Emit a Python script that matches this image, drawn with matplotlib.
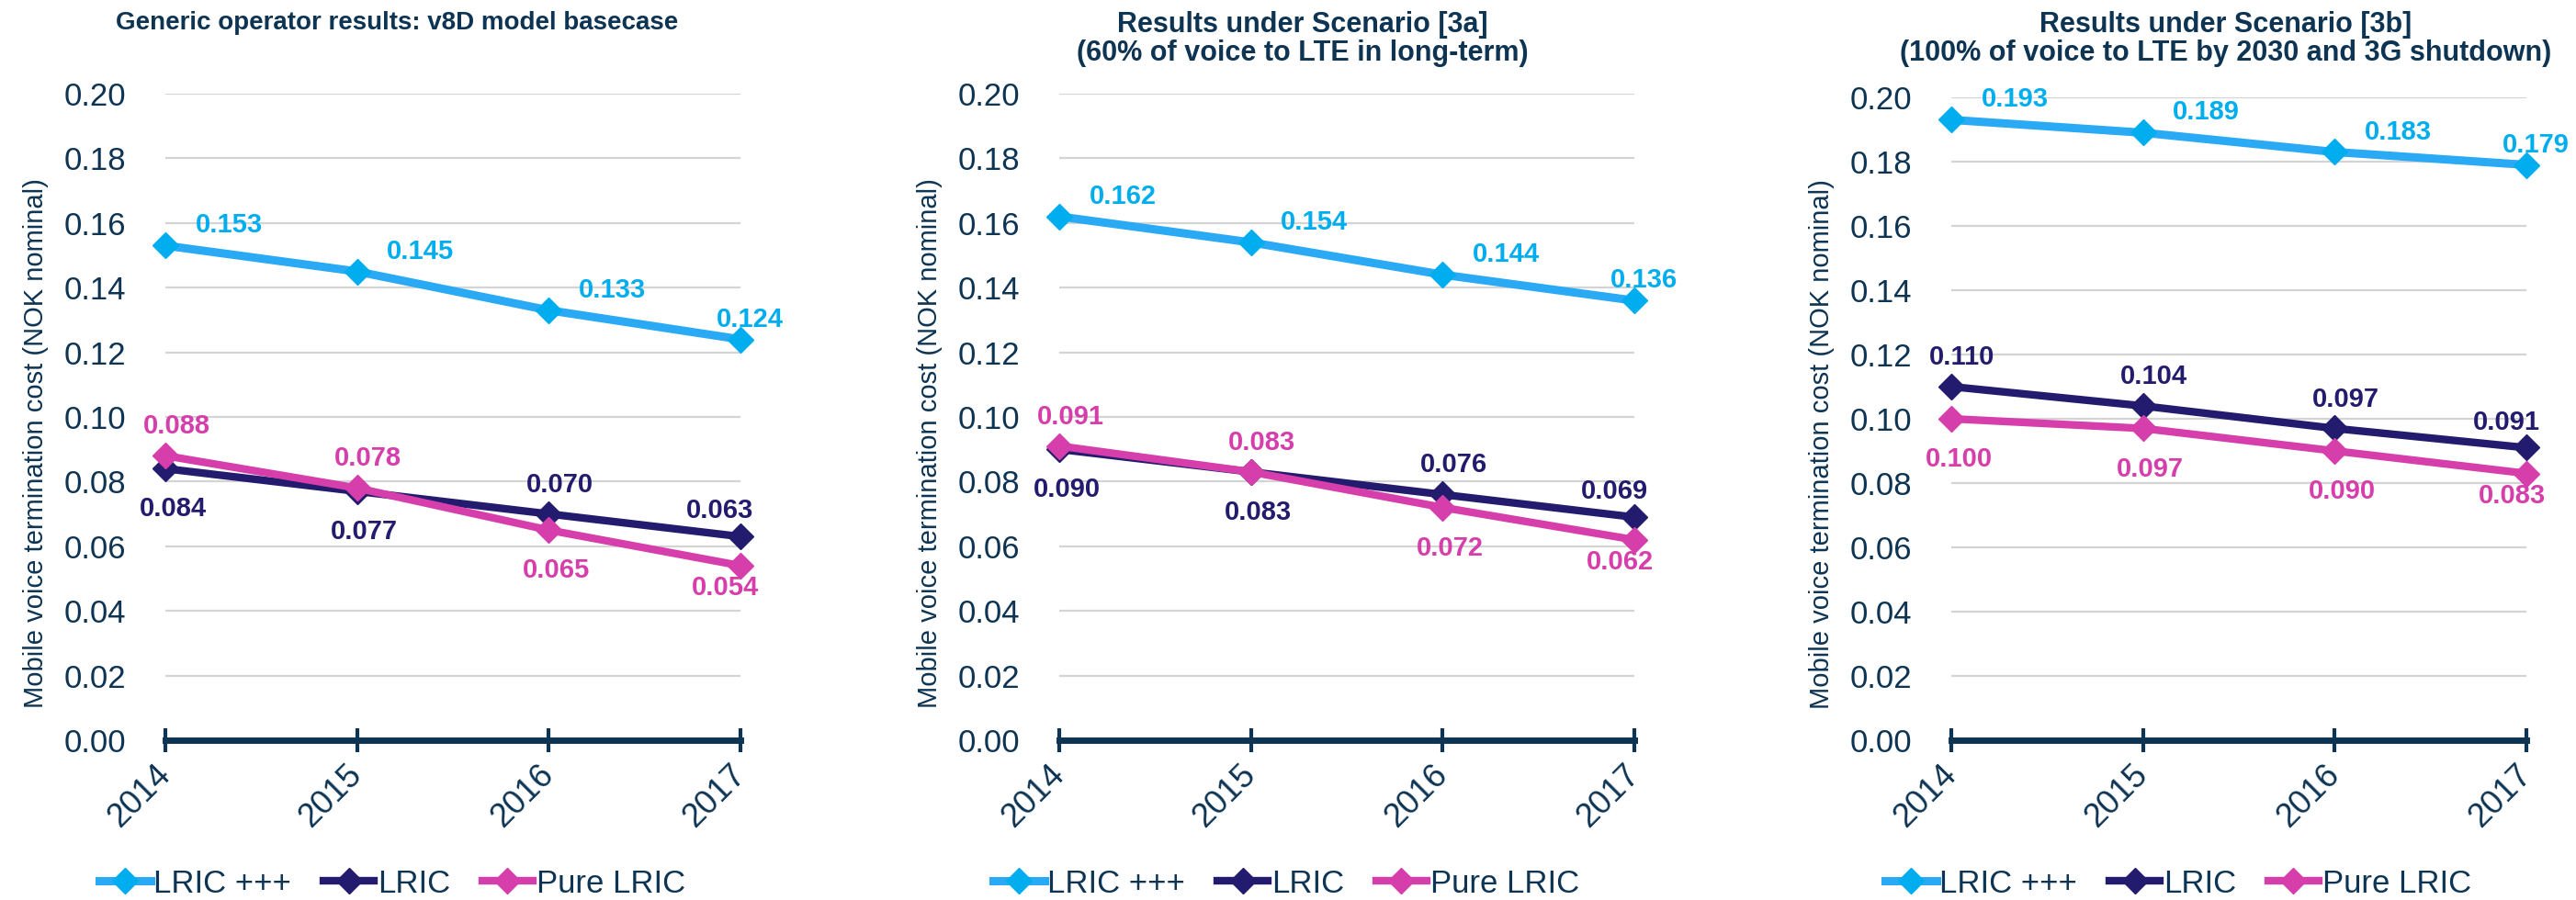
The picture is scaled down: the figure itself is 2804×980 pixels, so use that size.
import numpy as np
import matplotlib.pyplot as plt

plt.rcParams['font.family'] = ['Liberation Sans', 'DejaVu Sans']

# data
years = [2014, 2015, 2016, 2017]
series_names = ['LRIC +++', 'LRIC', 'Pure LRIC']
titles = ['Generic operator results: v8D model basecase',
          'Results under Scenario [3a]\n(60% of voice to LTE in long-term)',
          'Results under Scenario [3b]\n(100% of voice to LTE by 2030 and 3G shutdown)']
lric_ppp = [[0.153, 0.145, 0.133, 0.124],
            [0.162, 0.154, 0.144, 0.136],
            [0.193, 0.189, 0.183, 0.179]]
lric = [[0.084, 0.077, 0.070, 0.063],
        [0.090, 0.083, 0.076, 0.069],
        [0.110, 0.104, 0.097, 0.091]]
pure_lric = [[0.088, 0.078, 0.065, 0.054],
             [0.091, 0.083, 0.072, 0.062],
             [0.100, 0.097, 0.090, 0.083]]
y_label = 'Mobile voice termination cost (NOK nominal)'

# label placement: a = above, b = below
navy_pos = [['b', 'b', 'a', 'a'], ['b', 'b', 'a', 'a'], ['a', 'a', 'a', 'a']]
pink_pos = [['a', 'a', 'b', 'b'], ['a', 'a', 'b', 'b'], ['b', 'b', 'b', 'b']]

dark = '#0E3453'
c_blue_line = '#2AAAF4'
c_blue = '#00AEEF'
c_navy = '#231C6E'
c_pink = '#D63EAB'
grid_c = '#D4D4D4'

W, H = 2804, 980
fig = plt.figure(figsize=(W / 100, H / 100), dpi=100)

lefts = [180, 1153, 2124]
tops = [102, 102, 106]
title_x = [432, 1418, 2423]
title_size = [20, 22, 22]
legend_x = [427, 1400, 2371]
pw = 626
y0 = 806


def offset(pos, i):
    last = i == len(years) - 1
    if pos == 'a':
        return (-22, 28) if last else (12, 32)
    return (-16, -24) if last else (8, -44)


for k in range(3):
    ax = fig.add_axes([lefts[k] / W, (H - y0) / H, pw / W, (y0 - tops[k]) / H])
    ax.set_xlim(2014, 2017)
    ax.set_ylim(0, 0.2)
    ax.set_yticks(np.arange(0, 0.201, 0.02))
    ax.set_yticklabels(['%.2f' % t for t in np.arange(0, 0.201, 0.02)])
    ax.set_xticks(years)
    ax.set_xticklabels([str(y) for y in years], rotation=45, ha='right',
                       va='center', rotation_mode='anchor')
    ax.grid(axis='y', color=grid_c, lw=1.6, zorder=0)
    ax.set_axisbelow(True)
    for s in ['left', 'right', 'top']:
        ax.spines[s].set_visible(False)
    ax.spines['bottom'].set_color(dark)
    ax.spines['bottom'].set_linewidth(5)
    ax.tick_params(axis='y', length=0, pad=31, labelsize=25, labelcolor=dark)
    ax.tick_params(axis='x', direction='inout', length=19, width=3, color=dark,
                   pad=14, labelsize=26, labelcolor=dark)

    l1, = ax.plot(years, lric_ppp[k], color=c_blue_line, lw=6.5, marker='D', ms=14,
                  mfc=c_blue, mec=c_blue, clip_on=False, zorder=3, label=series_names[0])
    l2, = ax.plot(years, lric[k], color=c_navy, lw=6, marker='D', ms=14,
                  clip_on=False, zorder=4, label=series_names[1])
    l3, = ax.plot(years, pure_lric[k], color=c_pink, lw=6, marker='D', ms=14,
                  clip_on=False, zorder=5, label=series_names[2])

    for i, x in enumerate(years):
        d = (10, 22) if i == len(years) - 1 else (69, 22)
        ax.annotate('%.3f' % lric_ppp[k][i], (x, lric_ppp[k][i]), xytext=d,
                    textcoords='offset pixels', ha='center', va='center',
                    fontsize=21, fontweight='bold', color=c_blue, annotation_clip=False)
        ax.annotate('%.3f' % lric[k][i], (x, lric[k][i]), xytext=offset(navy_pos[k][i], i),
                    textcoords='offset pixels', ha='center', va='center',
                    fontsize=21, fontweight='bold', color=c_navy, annotation_clip=False)
        ax.annotate('%.3f' % pure_lric[k][i], (x, pure_lric[k][i]),
                    xytext=offset(pink_pos[k][i], i),
                    textcoords='offset pixels', ha='center', va='center',
                    fontsize=21, fontweight='bold', color=c_pink, annotation_clip=False)

    ax.text(-0.225, 0.46, y_label, transform=ax.transAxes, rotation=90,
            ha='center', va='center', fontsize=21, color=dark)

    fig.text(title_x[k] / W, 1 - 12 / H, titles[k], ha='center', va='top',
             fontsize=title_size[k], fontweight='bold', color=dark, linespacing=1.05)

    leg = fig.legend(handles=[l1, l2, l3], loc='center', ncol=3,
                     bbox_to_anchor=(legend_x[k] / W, 18 / H), frameon=False,
                     fontsize=25, handlelength=1.6, handletextpad=0.1,
                     columnspacing=1.0)
    for t in leg.get_texts():
        t.set_color(dark)

fig.savefig('out.png', dpi=100)
